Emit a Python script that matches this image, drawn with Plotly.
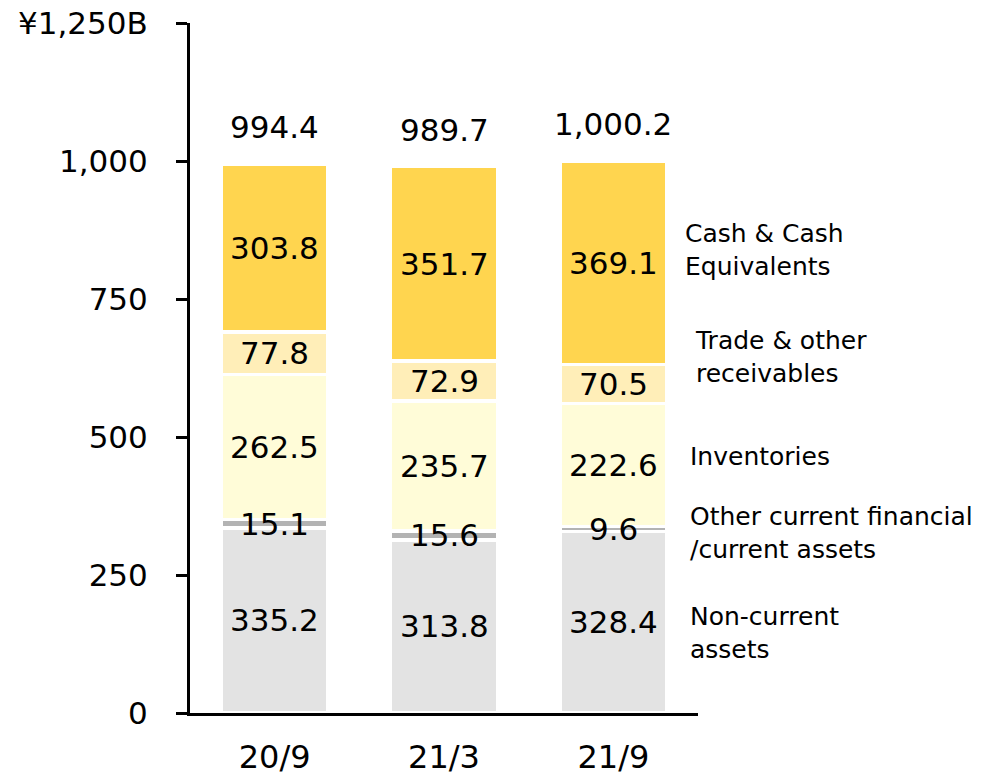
import plotly.graph_objects as go

categories = ["20/9", "21/3", "21/9"]
non_current = [335.2, 313.8, 328.4]
other_current = [15.1, 15.6, 9.6]
inventories = [262.5, 235.7, 222.6]
trade = [77.8, 72.9, 70.5]
cash = [303.8, 351.7, 369.1]
totals = [994.4, 989.7, 1000.2]

series = [
    ("Non-current<br>assets", non_current, "#E3E3E3"),
    ("Other current financial<br>/current assets", other_current, "#B3B3B3"),
    ("Inventories", inventories, "#FFFCD8"),
    ("Trade & other<br>receivables", trade, "#FFEEB8"),
    ("Cash & Cash<br>Equivalents", cash, "#FFD54F"),
]
label_y = [145, 326, 464, 645, 838]
label_x = [0.980, 0.980, 0.980, 0.990, 0.970]

FONT = "DejaVu Sans"
fig = go.Figure()
for name, vals, col in series:
    fig.add_trace(go.Bar(x=categories, y=vals, name=name,
                         marker=dict(color=col, line=dict(color="white", width=3.5))))

ann = []
base = [0.0, 0.0, 0.0]
for name, vals, col in series:
    for i, v in enumerate(vals):
        ann.append(dict(x=categories[i], y=base[i] + v / 2, text=f"{v:.1f}",
                        showarrow=False, xref="x", yref="y",
                        font=dict(family=FONT, size=31, color="black")))
        base[i] += v
for i, t in enumerate(totals):
    ann.append(dict(x=categories[i], y=t, text=f"{t:,.1f}", showarrow=False,
                    yshift=37, font=dict(family=FONT, size=31, color="black")))
for (name, vals, col), ly, lx in zip(series, label_y, label_x):
    ann.append(dict(x=lx, xref="paper", y=ly, yref="y", text=name, showarrow=False,
                    xanchor="left", align="left",
                    font=dict(family=FONT, size=25, color="black")))

fig.update_layout(
    barmode="stack", bargap=0.37, showlegend=False,
    width=976, height=768,
    margin=dict(l=182, r=286, t=15, b=63, autoexpand=False),
    plot_bgcolor="white", paper_bgcolor="white",
    font=dict(family=FONT, size=31, color="black"),
    annotations=ann,
    xaxis=dict(showline=True, linecolor="black", linewidth=3, ticks="",
               ticklabelstandoff=14, tickfont=dict(size=32), automargin=False),
    yaxis=dict(range=[0, 1250], tickvals=[0, 250, 500, 750, 1000, 1250],
               ticktext=["0", "250", "500", "750", "1,000", "¥1,250B"],
               showline=True, linecolor="black", linewidth=3, ticks="outside",
               ticklen=11, tickwidth=3, tickcolor="black", showgrid=False,
               zeroline=False, ticklabelstandoff=22, tickfont=dict(size=31),
               ticklabeloverflow="allow", automargin=False),
)
fig.write_html("out.html")
